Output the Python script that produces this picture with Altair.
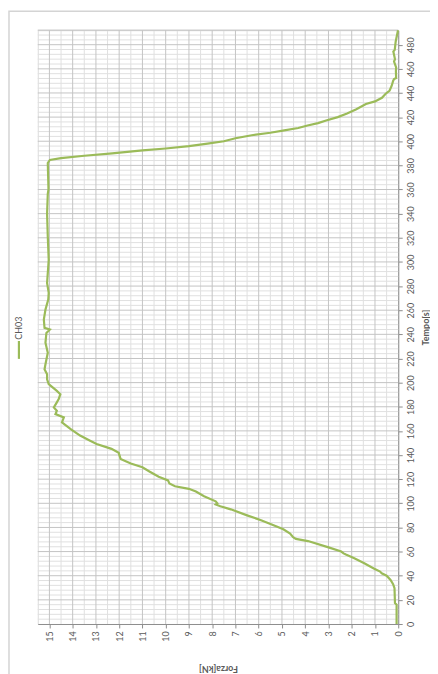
import altair as alt
import pandas as pd

# Data (Tempo [s] vs Forza [kN])
tempo = [0, 16, 17.3, 29.7, 33, 36.5, 40, 42, 43.4, 46, 50.3, 54.4, 57.5, 58.5, 60, 63.7,
         68.7, 70.5, 72, 75, 78.5, 82.4, 86, 90, 95, 97.5, 99, 100, 101.6, 105.8, 109.7,
         112, 114.1, 116.4, 119, 122, 126.4, 129.9, 133, 136.8, 141.8, 145.1, 149.2, 151.9,
         156.1, 161.6, 167.1, 171.2, 173.9, 176.7, 179.5, 183, 186.3, 190.4, 193.1, 198.7,
         202.8, 206.9, 211, 215.2, 224.8, 233, 241.2, 244, 245.4, 252.3, 260.5, 268.8,
         274.3, 282.5, 301.7, 321, 340, 356.5, 360, 382, 384.5, 386, 388, 390, 392.4, 394,
         396, 398, 400, 402.5, 405, 407, 409, 411, 413, 415, 417.2, 420, 423, 426.5, 430.9,
         433, 436, 439.2, 442, 446, 450, 451.5, 452.4, 458, 461.2, 466, 468.1, 474.3, 475.7,
         482.5, 492]
forza = [0.07, 0.07, 0.14, 0.16, 0.22, 0.33, 0.5, 0.71, 0.78, 1.05, 1.46, 1.89, 2.25, 2.35,
         2.45, 3.03, 3.88, 4.40, 4.52, 4.65, 4.94, 5.44, 5.9, 6.5, 7.2, 7.65, 7.85, 7.78, 7.85,
         8.35, 8.7, 9.0, 9.6, 9.84, 9.9, 10.3, 10.7, 11.0, 11.5, 11.94, 12.02, 12.33, 12.97,
         13.25, 13.68, 14.1, 14.46, 14.38, 14.74, 14.68, 14.81, 14.7, 14.6, 14.53, 14.68,
         15.03, 15.1, 15.1, 15.21, 15.17, 15.07, 15.17, 15.13, 14.98, 15.21, 15.24, 15.17,
         15.05, 15.03, 15.1, 15.03, 15.07, 15.1, 15.07, 15.04, 15.07, 14.98, 14.5, 13.5,
         12.3, 11.0, 10.0, 9.0, 8.2, 7.5, 7.0, 6.3, 5.5, 4.9, 4.3, 3.9, 3.45, 3.1, 2.6, 2.2,
         1.8, 1.39, 1.0, 0.7, 0.55, 0.37, 0.28, 0.22, 0.18, 0.09, 0.1, 0.09, 0.18, 0.14,
         0.21, 0.15, 0.11, 0.01]

series_name = "CH03"
forza_ticks = list(range(0, 16))
tempo_ticks = list(range(0, 481, 20))
forza_minor = [v / 2 for v in range(0, 31) if v % 2 == 1]
tempo_minor = [v for v in range(0, 493, 4) if v % 20 != 0]

W, H = 363, 598
FONT = "Lato"

df = pd.DataFrame({"v": forza, "t": tempo, "i": range(len(tempo)), "serie": series_name})

xscale = alt.Scale(domain=[0, 15.5], reverse=True, nice=False, zero=False)
yscale = alt.Scale(domain=[0, 492], nice=False, zero=False)

x_axis = alt.Axis(orient="bottom", values=forza_ticks, title="Forza[kN]",
                  labelAngle=270, labelAlign="right", labelBaseline="middle",
                  tickSize=4, labelPadding=3, grid=False,
                  domainColor="#8c8c8c", tickColor="#8c8c8c",
                  labelColor="#595959", labelFontSize=9, labelFont=FONT,
                  titleAngle=180, titleX=W / 2, titleY=45,
                  titleAlign="center", titleBaseline="middle",
                  titleFont=FONT, titleFontSize=9, titleFontWeight="bold",
                  titleColor="#595959")
y_axis = alt.Axis(orient="right", values=tempo_ticks, title="Tempo[s]",
                  labelAngle=270, labelAlign="center", labelBaseline="top",
                  tickSize=4, labelPadding=4, grid=False,
                  domainColor="#8c8c8c", tickColor="#8c8c8c",
                  labelColor="#595959", labelFontSize=9, labelFont=FONT,
                  titleAngle=270, titleX=27, titleY=H / 2,
                  titleAlign="center", titleBaseline="middle",
                  titleFont=FONT, titleFontSize=9, titleFontWeight="bold",
                  titleColor="#595959")

X = lambda f: alt.X(f, scale=xscale, axis=x_axis, title="Forza[kN]")
Y = lambda f: alt.Y(f, scale=yscale, axis=y_axis, title="Tempo[s]")

minor_x = alt.Chart(pd.DataFrame({"v": forza_minor})).mark_rule(
    color="#e0e0e0", strokeWidth=1).encode(x=X("v:Q"))
minor_y = alt.Chart(pd.DataFrame({"t": tempo_minor})).mark_rule(
    color="#e0e0e0", strokeWidth=1).encode(y=Y("t:Q"))
major_x = alt.Chart(pd.DataFrame({"v": forza_ticks[1:]})).mark_rule(
    color="#c4c4c4", strokeWidth=1).encode(x=X("v:Q"))
major_y = alt.Chart(pd.DataFrame({"t": tempo_ticks[1:] + [492]})).mark_rule(
    color="#c4c4c4", strokeWidth=1).encode(y=Y("t:Q"))

line = alt.Chart(df).mark_line(color="#9bbb59", strokeWidth=2.2).encode(
    x=X("v:Q"), y=Y("t:Q"), order="i:Q")

leg_df = pd.DataFrame({"serie": [series_name]})
leg_text = alt.Chart(leg_df).mark_text(
    angle=270, font=FONT, fontSize=9, color="#595959", align="center", baseline="middle"
).encode(text="serie:N", x=alt.value(-19), y=alt.value(300))
leg_sym = alt.Chart(leg_df).mark_rule(color="#9bbb59", strokeWidth=2.2).encode(
    x=alt.value(-19), y=alt.value(313), y2=alt.value(331))

border = alt.Chart(leg_df).mark_rect(
    fill=None, stroke="#d4d4d4", strokeWidth=1.5, clip=False).encode(
    x=alt.value(-29), y=alt.value(-19), x2=alt.value(W + 60), y2=alt.value(H + 80))

chart = alt.layer(minor_x, minor_y, major_x, major_y, line, leg_sym, leg_text, border).properties(
    width=W, height=H,
    autosize=alt.AutoSizeParams(type="none"),
    padding={"left": 30, "top": 20, "right": 32, "bottom": 48},
).configure_view(stroke=None).configure(background="white")

chart.save("out.html", embed_options={"renderer": "svg", "actions": False})
